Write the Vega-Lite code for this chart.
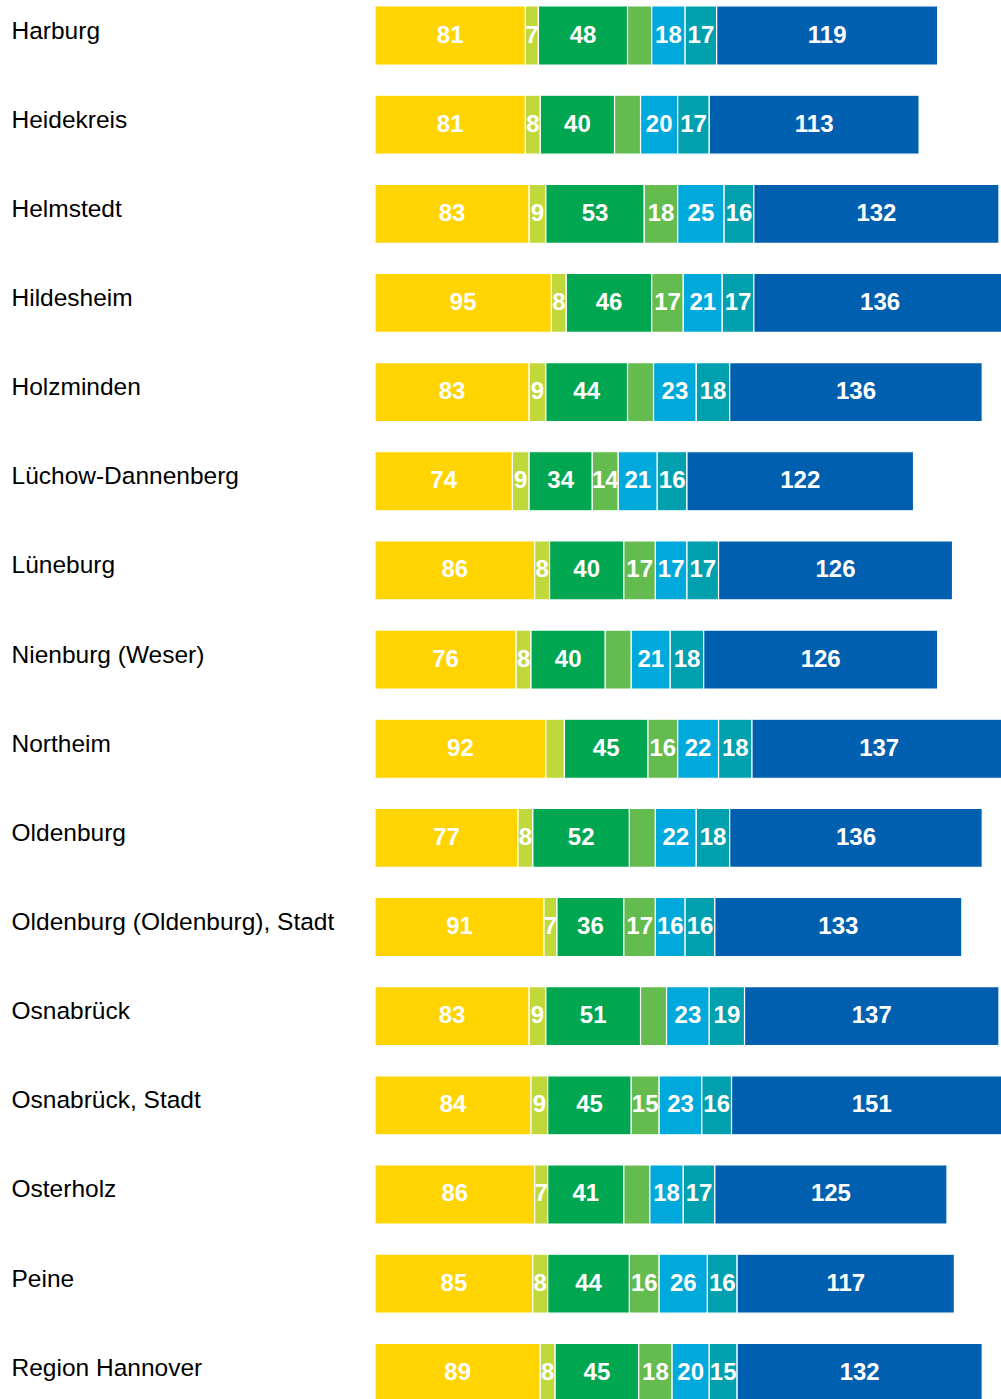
{
  "$schema": "https://vega.github.io/schema/vega-lite/v6.json",
  "autosize": {"type": "none"},
  "padding": {"left": 375, "top": 0, "right": 0, "bottom": 0},
  "width": 626,
  "height": 1399,
  "background": "#ffffff",
  "config": {"view": {"stroke": null}, "font": "Liberation Sans"},
  "data": {"values": [
    {"region": "Harburg", "seg": "s1", "value": 81},
    {"region": "Harburg", "seg": "s2", "value": 7},
    {"region": "Harburg", "seg": "s3", "value": 48},
    {"region": "Harburg", "seg": "s4", "value": 13, "hidden": true},
    {"region": "Harburg", "seg": "s5", "value": 18},
    {"region": "Harburg", "seg": "s6", "value": 17},
    {"region": "Harburg", "seg": "s7", "value": 119},
    {"region": "Heidekreis", "seg": "s1", "value": 81},
    {"region": "Heidekreis", "seg": "s2", "value": 8},
    {"region": "Heidekreis", "seg": "s3", "value": 40},
    {"region": "Heidekreis", "seg": "s4", "value": 14, "hidden": true},
    {"region": "Heidekreis", "seg": "s5", "value": 20},
    {"region": "Heidekreis", "seg": "s6", "value": 17},
    {"region": "Heidekreis", "seg": "s7", "value": 113},
    {"region": "Helmstedt", "seg": "s1", "value": 83},
    {"region": "Helmstedt", "seg": "s2", "value": 9},
    {"region": "Helmstedt", "seg": "s3", "value": 53},
    {"region": "Helmstedt", "seg": "s4", "value": 18},
    {"region": "Helmstedt", "seg": "s5", "value": 25},
    {"region": "Helmstedt", "seg": "s6", "value": 16},
    {"region": "Helmstedt", "seg": "s7", "value": 132},
    {"region": "Hildesheim", "seg": "s1", "value": 95},
    {"region": "Hildesheim", "seg": "s2", "value": 8},
    {"region": "Hildesheim", "seg": "s3", "value": 46},
    {"region": "Hildesheim", "seg": "s4", "value": 17},
    {"region": "Hildesheim", "seg": "s5", "value": 21},
    {"region": "Hildesheim", "seg": "s6", "value": 17},
    {"region": "Hildesheim", "seg": "s7", "value": 136},
    {"region": "Holzminden", "seg": "s1", "value": 83},
    {"region": "Holzminden", "seg": "s2", "value": 9},
    {"region": "Holzminden", "seg": "s3", "value": 44},
    {"region": "Holzminden", "seg": "s4", "value": 14, "hidden": true},
    {"region": "Holzminden", "seg": "s5", "value": 23},
    {"region": "Holzminden", "seg": "s6", "value": 18},
    {"region": "Holzminden", "seg": "s7", "value": 136},
    {"region": "Lüchow-Dannenberg", "seg": "s1", "value": 74},
    {"region": "Lüchow-Dannenberg", "seg": "s2", "value": 9},
    {"region": "Lüchow-Dannenberg", "seg": "s3", "value": 34},
    {"region": "Lüchow-Dannenberg", "seg": "s4", "value": 14},
    {"region": "Lüchow-Dannenberg", "seg": "s5", "value": 21},
    {"region": "Lüchow-Dannenberg", "seg": "s6", "value": 16},
    {"region": "Lüchow-Dannenberg", "seg": "s7", "value": 122},
    {"region": "Lüneburg", "seg": "s1", "value": 86},
    {"region": "Lüneburg", "seg": "s2", "value": 8},
    {"region": "Lüneburg", "seg": "s3", "value": 40},
    {"region": "Lüneburg", "seg": "s4", "value": 17},
    {"region": "Lüneburg", "seg": "s5", "value": 17},
    {"region": "Lüneburg", "seg": "s6", "value": 17},
    {"region": "Lüneburg", "seg": "s7", "value": 126},
    {"region": "Nienburg (Weser)", "seg": "s1", "value": 76},
    {"region": "Nienburg (Weser)", "seg": "s2", "value": 8},
    {"region": "Nienburg (Weser)", "seg": "s3", "value": 40},
    {"region": "Nienburg (Weser)", "seg": "s4", "value": 14, "hidden": true},
    {"region": "Nienburg (Weser)", "seg": "s5", "value": 21},
    {"region": "Nienburg (Weser)", "seg": "s6", "value": 18},
    {"region": "Nienburg (Weser)", "seg": "s7", "value": 126},
    {"region": "Northeim", "seg": "s1", "value": 92},
    {"region": "Northeim", "seg": "s2", "value": 10, "hidden": true},
    {"region": "Northeim", "seg": "s3", "value": 45},
    {"region": "Northeim", "seg": "s4", "value": 16},
    {"region": "Northeim", "seg": "s5", "value": 22},
    {"region": "Northeim", "seg": "s6", "value": 18},
    {"region": "Northeim", "seg": "s7", "value": 137},
    {"region": "Oldenburg", "seg": "s1", "value": 77},
    {"region": "Oldenburg", "seg": "s2", "value": 8},
    {"region": "Oldenburg", "seg": "s3", "value": 52},
    {"region": "Oldenburg", "seg": "s4", "value": 14, "hidden": true},
    {"region": "Oldenburg", "seg": "s5", "value": 22},
    {"region": "Oldenburg", "seg": "s6", "value": 18},
    {"region": "Oldenburg", "seg": "s7", "value": 136},
    {"region": "Oldenburg (Oldenburg), Stadt", "seg": "s1", "value": 91},
    {"region": "Oldenburg (Oldenburg), Stadt", "seg": "s2", "value": 7},
    {"region": "Oldenburg (Oldenburg), Stadt", "seg": "s3", "value": 36},
    {"region": "Oldenburg (Oldenburg), Stadt", "seg": "s4", "value": 17},
    {"region": "Oldenburg (Oldenburg), Stadt", "seg": "s5", "value": 16},
    {"region": "Oldenburg (Oldenburg), Stadt", "seg": "s6", "value": 16},
    {"region": "Oldenburg (Oldenburg), Stadt", "seg": "s7", "value": 133},
    {"region": "Osnabrück", "seg": "s1", "value": 83},
    {"region": "Osnabrück", "seg": "s2", "value": 9},
    {"region": "Osnabrück", "seg": "s3", "value": 51},
    {"region": "Osnabrück", "seg": "s4", "value": 14, "hidden": true},
    {"region": "Osnabrück", "seg": "s5", "value": 23},
    {"region": "Osnabrück", "seg": "s6", "value": 19},
    {"region": "Osnabrück", "seg": "s7", "value": 137},
    {"region": "Osnabrück, Stadt", "seg": "s1", "value": 84},
    {"region": "Osnabrück, Stadt", "seg": "s2", "value": 9},
    {"region": "Osnabrück, Stadt", "seg": "s3", "value": 45},
    {"region": "Osnabrück, Stadt", "seg": "s4", "value": 15},
    {"region": "Osnabrück, Stadt", "seg": "s5", "value": 23},
    {"region": "Osnabrück, Stadt", "seg": "s6", "value": 16},
    {"region": "Osnabrück, Stadt", "seg": "s7", "value": 151},
    {"region": "Osterholz", "seg": "s1", "value": 86},
    {"region": "Osterholz", "seg": "s2", "value": 7},
    {"region": "Osterholz", "seg": "s3", "value": 41},
    {"region": "Osterholz", "seg": "s4", "value": 14, "hidden": true},
    {"region": "Osterholz", "seg": "s5", "value": 18},
    {"region": "Osterholz", "seg": "s6", "value": 17},
    {"region": "Osterholz", "seg": "s7", "value": 125},
    {"region": "Peine", "seg": "s1", "value": 85},
    {"region": "Peine", "seg": "s2", "value": 8},
    {"region": "Peine", "seg": "s3", "value": 44},
    {"region": "Peine", "seg": "s4", "value": 16},
    {"region": "Peine", "seg": "s5", "value": 26},
    {"region": "Peine", "seg": "s6", "value": 16},
    {"region": "Peine", "seg": "s7", "value": 117},
    {"region": "Region Hannover", "seg": "s1", "value": 89},
    {"region": "Region Hannover", "seg": "s2", "value": 8},
    {"region": "Region Hannover", "seg": "s3", "value": 45},
    {"region": "Region Hannover", "seg": "s4", "value": 18},
    {"region": "Region Hannover", "seg": "s5", "value": 20},
    {"region": "Region Hannover", "seg": "s6", "value": 15},
    {"region": "Region Hannover", "seg": "s7", "value": 132}
  ]},
  "transform": [
    {"stack": "value", "groupby": ["region"], "sort": [{"field": "seg", "order": "ascending"}], "as": ["x0", "x1"]},
    {"calculate": "(datum.x0 + datum.x1) / 2", "as": "xm"}
  ],
  "encoding": {
    "y": {
      "field": "region", "type": "nominal", "sort": null,
      "scale": {"range": [6, 1402.3], "paddingInner": 0.338, "paddingOuter": 0},
      "axis": {
        "title": null, "domain": false, "ticks": false, "tickSize": 0,
        "labelAlign": "left", "labelPadding": 364, "labelBaseline": "alphabetic",
        "labelOffset": 3, "labelFontSize": 24.5, "labelColor": "#000000",
        "labelFont": "Liberation Sans", "labelLimit": 0
      }
    }
  },
  "layer": [
    {
      "mark": {"type": "bar", "clip": true, "stroke": "#ffffff", "strokeWidth": 1.2},
      "encoding": {
        "x": {"field": "x0", "type": "quantitative", "scale": {"domain": [0, 337.1], "nice": false, "zero": true}, "axis": null},
        "x2": {"field": "x1"},
        "color": {
          "field": "seg", "type": "nominal", "legend": null,
          "scale": {
            "domain": ["s1", "s2", "s3", "s4", "s5", "s6", "s7"],
            "range": ["#FFD400", "#C0D83A", "#00A650", "#64BB4E", "#00A9DB", "#00A0AE", "#005FAF"]
          }
        }
      }
    },
    {
      "transform": [{"filter": "!datum.hidden"}],
      "mark": {"type": "text", "clip": true, "color": "#ffffff", "fontWeight": "bold", "fontSize": 24, "font": "Liberation Sans", "baseline": "middle", "align": "center"},
      "encoding": {
        "x": {"field": "xm", "type": "quantitative"},
        "text": {"field": "value", "type": "quantitative"}
      }
    }
  ]
}
